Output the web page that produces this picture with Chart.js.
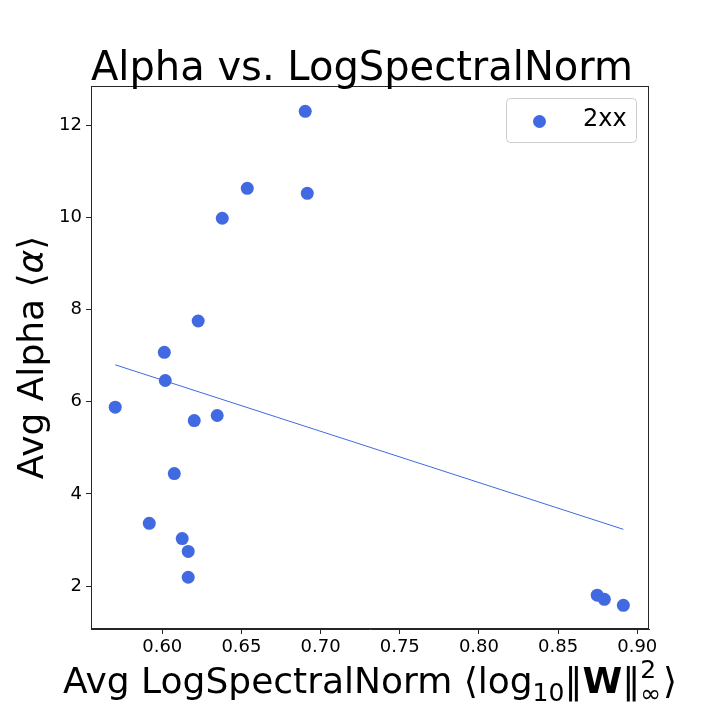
<!DOCTYPE html>
<html>
<head>
<meta charset="utf-8">
<script src="https://cdn.jsdelivr.net/npm/chart.js@4.4.1/dist/chart.umd.min.js"></script>
<style>
  html, body { margin: 0; padding: 0; background: #fff; }
  #wrap { width: 720px; height: 720px; }
</style>
</head>
<body>
<div id="wrap"><canvas id="alphaChart" width="720" height="720"></canvas></div>
<script>
// scatter points (avg log spectral norm vs avg alpha)
var normX = [0.5703, 0.5918, 0.6013, 0.6019, 0.6076, 0.6126, 0.6164, 0.6164, 0.6202,
             0.6227, 0.6347, 0.6379, 0.6537, 0.6903, 0.6916, 0.8747, 0.8792, 0.8912];
var alphaY = [5.88, 3.36, 7.07, 6.46, 4.44, 3.03, 2.75, 2.19, 5.59,
              7.75, 5.70, 9.98, 10.63, 12.30, 10.52, 1.80, 1.71, 1.58];
// fitted line end points
var fitX = [0.5703, 0.8912];
var fitY = [6.80, 3.23];
var xTicks = [0.60, 0.65, 0.70, 0.75, 0.80, 0.85, 0.90];
var yTicks = [2, 4, 6, 8, 10, 12];
var seriesName = "2xx";

var blue = "royalblue";
var axisCol = "#262626";
var FONT = "'DejaVu Sans', sans-serif";

var points = normX.map((v, i) => ({ x: v, y: alphaY[i] }));
var fit = fitX.map((v, i) => ({ x: v, y: fitY[i] }));

// title, axis labels with math bits, frame and legend box
var decor = {
  id: "decor",
  afterDraw(chart) {
    var ctx = chart.ctx, a = chart.chartArea;
    ctx.save();
    // frame on all four sides
    ctx.strokeStyle = axisCol;
    ctx.lineWidth = 1;
    ctx.strokeRect(a.left + 0.5, a.top + 0.5, a.right - a.left - 1, a.bottom - a.top - 1);

    ctx.fillStyle = "#000";
    ctx.textBaseline = "alphabetic";
    var cx = (a.left + a.right) / 2;

    // title
    ctx.font = "40px " + FONT;
    ctx.textAlign = "center";
    ctx.fillText("Alpha vs. LogSpectralNorm", cx - 8, 80);

    // x label: Avg LogSpectralNorm <log10 ||W||^2_inf>
    ctx.textAlign = "left";
    var big = "36px " + FONT, small = "25px " + FONT, bold = "bold 36px " + FONT;
    var parts = [
      { t: "Avg LogSpectralNorm \u27E8log", f: big, dy: 0 },
      { t: "10", f: small, dy: 8 },
      { t: "\u2016", f: big, dy: 0 },
      { t: "W", f: bold, dy: 0 },
      { t: "\u2016", f: big, dy: 0 },
      { t: "2", f: small, dy: -15, stack: "\u221E", sdy: 9 },
      { t: "\u27E9", f: big, dy: 0 }
    ];
    var total = 0;
    parts.forEach(p => {
      ctx.font = p.f;
      p.w = ctx.measureText(p.t).width;
      if (p.stack) p.w = Math.max(p.w, ctx.measureText(p.stack).width) + 2;
      total += p.w;
    });
    var x = cx - total / 2, base = 693;
    parts.forEach(p => {
      ctx.font = p.f;
      ctx.fillText(p.t, x, base + p.dy);
      if (p.stack) ctx.fillText(p.stack, x, base + p.sdy);
      x += p.w;
    });

    // y label: Avg Alpha <alpha>
    var yParts = [
      { t: "Avg Alpha \u27E8", f: big },
      { t: "\u03B1", f: "italic 36px " + FONT },
      { t: "\u27E9", f: big }
    ];
    var ytot = 0;
    yParts.forEach(p => { ctx.font = p.f; p.w = ctx.measureText(p.t).width; ytot += p.w; });
    ctx.translate(43, (a.top + a.bottom) / 2);
    ctx.rotate(-Math.PI / 2);
    var yx = -ytot / 2;
    yParts.forEach(p => { ctx.font = p.f; ctx.fillText(p.t, yx, 0); yx += p.w; });
    ctx.restore();

    // legend box
    ctx.save();
    ctx.fillStyle = "rgba(255,255,255,0.8)";
    ctx.strokeStyle = "#cccccc";
    ctx.lineWidth = 1;
    ctx.beginPath();
    ctx.roundRect(506.5, 98.5, 130, 44, 4);
    ctx.fill();
    ctx.stroke();
    ctx.fillStyle = blue;
    ctx.beginPath();
    ctx.arc(539.5, 121.5, 6.5, 0, Math.PI * 2);
    ctx.fill();
    ctx.fillStyle = "#000";
    ctx.font = "24px " + FONT;
    ctx.textAlign = "left";
    ctx.textBaseline = "middle";
    ctx.fillText(seriesName, 583, 120);
    ctx.restore();
  }
};

new Chart(document.getElementById("alphaChart"), {
  type: "scatter",
  data: {
    datasets: [
      { label: seriesName, data: points, backgroundColor: blue, borderColor: blue,
        pointRadius: 6.5, pointHoverRadius: 6.5, borderWidth: 0 },
      { type: "line", label: "fit", data: fit, borderColor: blue, borderWidth: 1,
        pointRadius: 0, fill: false, tension: 0 }
    ]
  },
  options: {
    responsive: false,
    animation: false,
    layout: { padding: { top: 86, right: 71, left: 0, bottom: 0 } },
    plugins: { legend: { display: false }, tooltip: { enabled: false }, title: { display: false } },
    scales: {
      x: {
        type: "linear", min: 0.555, max: 0.9074,
        afterBuildTicks: s => { s.ticks = xTicks.map(v => ({ value: v })); },
        afterFit: s => { s.height = 91; },
        grid: { drawOnChartArea: false, drawTicks: true, tickLength: 5, color: axisCol },
        border: { display: true, color: axisCol },
        ticks: { color: "#000", font: { family: FONT, size: 18 }, padding: 3,
                 maxRotation: 0, callback: v => v.toFixed(2) }
      },
      y: {
        type: "linear", min: 1.067, max: 12.85,
        afterBuildTicks: s => { s.ticks = yTicks.map(v => ({ value: v })); },
        afterFit: s => { s.width = 91; },
        grid: { drawOnChartArea: false, drawTicks: true, tickLength: 5, color: axisCol },
        border: { display: true, color: axisCol },
        ticks: { color: "#000", font: { family: FONT, size: 18 }, padding: 4,
                 callback: v => String(v) }
      }
    }
  },
  plugins: [decor]
});
</script>
</body>
</html>
